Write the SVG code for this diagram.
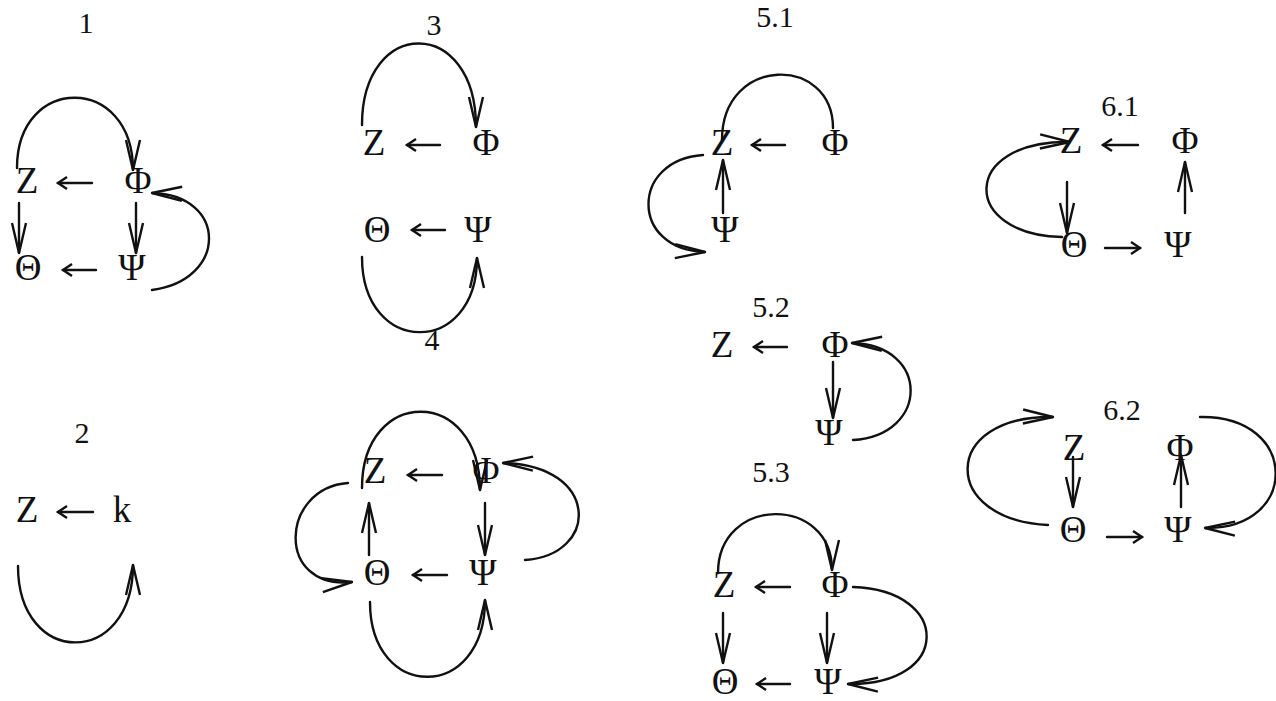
<svg xmlns="http://www.w3.org/2000/svg" width="1276" height="701" viewBox="0 0 1276 701">
<style>
.t{font-family:"Liberation Serif","Times New Roman",serif;font-size:37px;fill:#111;text-anchor:middle}
.l{font-family:"Liberation Serif","Times New Roman",serif;font-size:30px;fill:#111;text-anchor:middle}
.c{fill:none;stroke:#111;stroke-width:2.4;stroke-linecap:round}
.a{marker-end:url(#big)}
.s{marker-end:url(#sm)}
</style>
<defs>
<marker id="big" markerUnits="userSpaceOnUse" viewBox="-32 -10 34 20" markerWidth="34" markerHeight="20" refX="0" refY="0" orient="auto" overflow="visible">
<path d="M-30,-7 L0,0 L-30,7" fill="none" stroke="#111" stroke-width="2.4" stroke-linejoin="miter"/>
</marker>
<marker id="sm" markerUnits="userSpaceOnUse" viewBox="-12 -8 14 16" markerWidth="14" markerHeight="16" refX="0" refY="0" orient="auto" overflow="visible">
<path d="M-9,-6 L0,0 L-9,6" fill="none" stroke="#111" stroke-width="2.4"/>
</marker>
</defs>
<rect width="1276" height="701" fill="#fff"/>

<g id="labels">
<text class="l" x="86" y="33">1</text>
<text class="l" x="82" y="443">2</text>
<text class="l" x="434" y="35">3</text>
<text class="l" x="432" y="350">4</text>
<text class="l" x="775" y="27">5.1</text>
<text class="l" x="771" y="317">5.2</text>
<text class="l" x="771" y="482">5.3</text>
<text class="l" x="1120" y="116">6.1</text>
<text class="l" x="1122" y="420">6.2</text>
</g>

<g id="d1">
<g id="d1-Z"><text class="t" x="27" y="193">Z</text></g>
<g id="d1-Phi"><text class="t" x="138" y="193">Φ</text></g>
<g id="d1-Theta"><text class="t" x="28" y="280">Θ</text></g>
<g id="d1-Psi"><text class="t" x="132" y="280">Ψ</text></g>
</g>
<g id="d2">
<g id="d2-Z"><text class="t" x="27" y="522">Z</text></g>
<g id="d2-k"><text class="t" x="122" y="522">k</text></g>
</g>
<g id="d3">
<g id="d3-Z"><text class="t" x="374" y="155">Z</text></g>
<g id="d3-Phi"><text class="t" x="486" y="155">Φ</text></g>
<g id="d3-Theta"><text class="t" x="377" y="242">Θ</text></g>
<g id="d3-Psi"><text class="t" x="478" y="242">Ψ</text></g>
</g>
<g id="d4">
<g id="d4-Z"><text class="t" x="375" y="483">Z</text></g>
<g id="d4-Phi"><text class="t" x="486" y="483">Φ</text></g>
<g id="d4-Theta"><text class="t" x="377" y="585">Θ</text></g>
<g id="d4-Psi"><text class="t" x="483" y="585">Ψ</text></g>
</g>
<g id="d51">
<g id="d51-Z"><text class="t" x="722" y="155">Z</text></g>
<g id="d51-Phi"><text class="t" x="835" y="155">Φ</text></g>
<g id="d51-Psi"><text class="t" x="725" y="242">Ψ</text></g>
</g>
<g id="d52">
<g id="d52-Z"><text class="t" x="722" y="357">Z</text></g>
<g id="d52-Phi"><text class="t" x="835" y="357">Φ</text></g>
<g id="d52-Psi"><text class="t" x="829" y="445">Ψ</text></g>
</g>
<g id="d53">
<g id="d53-Z"><text class="t" x="724" y="597">Z</text></g>
<g id="d53-Phi"><text class="t" x="835" y="597">Φ</text></g>
<g id="d53-Theta"><text class="t" x="725" y="694">Θ</text></g>
<g id="d53-Psi"><text class="t" x="828" y="694">Ψ</text></g>
</g>
<g id="d61">
<g id="d61-Z"><text class="t" x="1071" y="153">Z</text></g>
<g id="d61-Phi"><text class="t" x="1185" y="153">Φ</text></g>
<g id="d61-Theta"><text class="t" x="1074" y="257">Θ</text></g>
<g id="d61-Psi"><text class="t" x="1178" y="257">Ψ</text></g>
</g>
<g id="d62">
<g id="d62-Z"><text class="t" x="1074" y="460">Z</text></g>
<g id="d62-Phi"><text class="t" x="1180" y="460">Φ</text></g>
<g id="d62-Theta"><text class="t" x="1073" y="542">Θ</text></g>
<g id="d62-Psi"><text class="t" x="1178" y="542">Ψ</text></g>
</g>

<g id="connectors">
<!-- 1 -->
<path class="c s" d="M92,183 H58"/>
<path class="c s" d="M96,270 H63"/>
<path class="c a" d="M19,203 V253"/>
<path class="c a" d="M136,203 V253"/>
<path class="c a" d="M17,168 C17,74 133,74 133,170"/>
<path class="c a" d="M152,290 C228,280 228,195 152,193"/>
<!-- 2 -->
<path class="c s" d="M93,512 H58"/>
<path class="c a" d="M18,566 C18,668 133,668 133,565"/>
<!-- 3 -->
<path class="c s" d="M440,145 H407"/>
<path class="c s" d="M445,230 H412"/>
<path class="c a" d="M362,125 C362,16 476,16 476,127"/>
<path class="c a" d="M362,257 C362,357 477,357 477,258"/>
<!-- 4 -->
<path class="c s" d="M442,475 H408"/>
<path class="c s" d="M447,575 H413"/>
<path class="c a" d="M369,555 V503"/>
<path class="c a" d="M485,503 V555"/>
<path class="c a" d="M362,488 C362,386 480,386 480,490"/>
<path class="c a" d="M525,560 C600,555 600,465 503,463"/>
<path class="c a" d="M348,483 C280,488 275,590 352,582"/>
<path class="c a" d="M370,602 C370,702 485,702 485,600"/>
<!-- 5.1 -->
<path class="c s" d="M785,145 H752"/>
<path class="c a" d="M723,213 V160"/>
<path class="c" d="M722,140 C722,55 833,55 833,128"/>
<path class="c a" d="M703,155 C630,160 630,250 705,252"/>
<!-- 5.2 -->
<path class="c s" d="M787,347 H754"/>
<path class="c a" d="M833,362 V418"/>
<path class="c a" d="M853,440 C930,435 930,345 852,343"/>
<!-- 5.3 -->
<path class="c s" d="M790,587 H756"/>
<path class="c s" d="M790,684 H757"/>
<path class="c a" d="M723,613 V663"/>
<path class="c a" d="M827,613 V663"/>
<path class="c a" d="M718,573 C718,495 832,495 832,570"/>
<path class="c a" d="M853,587 C952,590 952,686 848,684"/>
<!-- 6.1 -->
<path class="c s" d="M1138,145 H1103"/>
<path class="c s" d="M1105,248 H1140"/>
<path class="c a" d="M1067,182 V233"/>
<path class="c a" d="M1185,213 V162"/>
<path class="c a" d="M1062,237 C960,235 960,140 1070,142"/>
<!-- 6.2 -->
<path class="c s" d="M1107,537 H1142"/>
<path class="c a" d="M1073,457 V507"/>
<path class="c a" d="M1181,507 V455"/>
<path class="c a" d="M1048,525 C940,520 940,415 1053,417"/>
<path class="c a" d="M1200,417 C1300,415 1300,530 1205,528"/>
</g>
</svg>
